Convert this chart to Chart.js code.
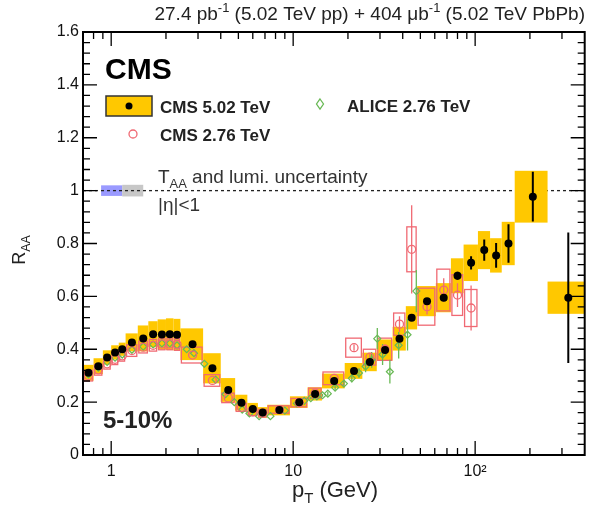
<!DOCTYPE html>
<html>
<head>
<meta charset="utf-8">
<script src="https://cdn.jsdelivr.net/npm/chart.js@4.4.1/dist/chart.umd.min.js"></script>
<style>
  html, body { margin: 0; padding: 0; background: #fff; }
  canvas { display: block; }
</style>
</head>
<body>
<canvas id="c" width="590" height="510"></canvas>
<script>
const FONT = '"Liberation Sans", Arial, Helvetica, sans-serif';

// ── CMS 5.02 TeV, 5-10% ──────────────────────────────────────────────────
const EDGES_502 = [0.7, 0.8, 0.9, 1.0, 1.1, 1.2, 1.4, 1.6, 1.8, 2.0, 2.2, 2.4, 3.2, 4.0, 4.8, 5.6, 6.4, 7.2,
  9.6, 12.0, 14.4, 19.2, 24.0, 28.8, 35.2, 41.6, 48.0, 60.8, 73.6, 86.4, 103.6, 120.8, 140.0, 165.0, 250.0, 400.0];
const PT_502 = [0.75, 0.85, 0.95, 1.05, 1.15, 1.3, 1.5, 1.7, 1.9, 2.1, 2.3, 2.8, 3.6, 4.4, 5.2, 6.0, 6.8, 8.4,
  10.8, 13.2, 16.8, 21.6, 26.4, 32, 38.4, 44.8, 54.4, 67.2, 80, 95, 112.2, 130.4, 152.5, 207.5, 325];
const RAA_502 = [0.311, 0.336, 0.369, 0.388, 0.400, 0.426, 0.441, 0.457, 0.456, 0.457, 0.455, 0.419, 0.328, 0.246,
  0.198, 0.174, 0.161, 0.170, 0.200, 0.231, 0.280, 0.318, 0.352, 0.397, 0.440, 0.519, 0.582, 0.595, 0.678, 0.727,
  0.775, 0.755, 0.800, 0.977, 0.595];
const STAT_502 = [0, 0, 0, 0, 0, 0, 0, 0, 0, 0, 0, 0, 0, 0, 0, 0, 0, 0, 0, 0, 0, 0, 0, 0, 0.004, 0.006, 0.008,
  0.01, 0.015, 0.025, 0.04, 0.047, 0.073, 0.094, 0.247];
const SYS_502 = [0.030, 0.030, 0.027, 0.027, 0.025, 0.034, 0.049, 0.049, 0.057, 0.060, 0.060, 0.060, 0.057, 0.045,
  0.030, 0.023, 0.020, 0.020, 0.022, 0.025, 0.028, 0.030, 0.035, 0.040, 0.045, 0.044, 0.057, 0.055, 0.066, 0.069,
  0.072, 0.065, 0.082, 0.098, 0.061];

// ── CMS 2.76 TeV ─────────────────────────────────────────────────────────
const EDGES_276 = [0.7, 0.8, 0.9, 1.0, 1.1, 1.2, 1.4, 1.6, 1.8, 2.0, 2.2, 2.4, 3.2, 4.0, 4.8, 5.6, 6.4, 7.2,
  9.6, 12.0, 14.4, 19.2, 24.0, 28.8, 35.2, 41.6, 48.0, 60.8, 73.6, 86.4, 103.6];
const PT_276 = [0.75, 0.85, 0.95, 1.05, 1.15, 1.3, 1.5, 1.7, 1.9, 2.1, 2.3, 2.8, 3.6, 4.4, 5.2, 6.0, 6.8, 8.4,
  10.8, 13.2, 16.8, 21.6, 26.4, 32, 38.4, 44.8, 54.4, 67.2, 80, 95];
const RAA_276 = [0.300, 0.322, 0.345, 0.362, 0.375, 0.395, 0.408, 0.415, 0.420, 0.420, 0.418, 0.378, 0.282, 0.216,
  0.180, 0.163, 0.158, 0.172, 0.198, 0.234, 0.290, 0.406, 0.370, 0.400, 0.495, 0.778, 0.561, 0.624, 0.605, 0.556];
const STAT_276 = [0, 0, 0, 0, 0, 0, 0, 0, 0, 0, 0, 0, 0, 0, 0, 0, 0, 0, 0, 0, 0.006, 0.012, 0.012, 0.018, 0.03,
  0.167, 0.03, 0.045, 0.045, 0.085];
const SYS_276 = [0.02, 0.02, 0.02, 0.02, 0.02, 0.022, 0.022, 0.022, 0.022, 0.022, 0.022, 0.03, 0.022, 0.018, 0.015,
  0.014, 0.014, 0.014, 0.016, 0.019, 0.024, 0.036, 0.03, 0.042, 0.042, 0.085, 0.07, 0.079, 0.077, 0.07];

// ── ALICE 2.76 TeV ───────────────────────────────────────────────────────
const PT_ALICE = [0.75, 0.85, 0.95, 1.05, 1.15, 1.3, 1.5, 1.7, 1.9, 2.1, 2.3, 2.6, 2.85, 3.25, 3.75, 4.25, 4.75,
  5.25, 5.75, 6.5, 7.5, 9, 10.5, 11.5, 12.5, 13.5, 14.5, 15.5, 17, 19, 21, 23, 25, 27, 29, 31, 34, 38, 42.5, 47.5];
const RAA_ALICE = [0.305, 0.33, 0.352, 0.368, 0.38, 0.398, 0.41, 0.418, 0.422, 0.422, 0.415, 0.40, 0.385, 0.345,
  0.285, 0.23, 0.2, 0.172, 0.157, 0.147, 0.147, 0.168, 0.195, 0.205, 0.215, 0.222, 0.226, 0.232, 0.255, 0.27, 0.29,
  0.31, 0.335, 0.36, 0.44, 0.38, 0.315, 0.415, 0.455, 0.62];
const STAT_ALICE = [0, 0, 0, 0, 0, 0, 0, 0, 0, 0, 0, 0, 0, 0, 0, 0, 0, 0, 0, 0, 0, 0, 0, 0, 0.004, 0.005, 0.006,
  0.008, 0.01, 0.012, 0.015, 0.018, 0.022, 0.03, 0.04, 0.04, 0.045, 0.05, 0.06, 0.08];

// ── normalisation boxes at R_AA = 1 (T_AA, lumi) ─────────────────────────
const UNC_LO = [0.88, 1.15];
const UNC_HI = [1.15, 1.5];
const UNC_HALF = [0.02, 0.022];
const UNC_COLORS = ['rgba(120,120,255,0.75)', 'rgba(185,185,185,0.8)'];

// ── axes ─────────────────────────────────────────────────────────────────
const X_TICKS = [1, 10, 100];
const X_TICK_LABELS = ['1', '10', '10²'];
const X_MINOR = [0.8, 0.9, 2, 3, 4, 5, 6, 7, 8, 9, 20, 30, 40, 50, 60, 70, 80, 90, 200, 300];
const Y_TICKS = [0, 0.2, 0.4, 0.6, 0.8, 1.0, 1.2, 1.4, 1.6];
const Y_TICK_LABELS = ['0', '0.2', '0.4', '0.6', '0.8', '1', '1.2', '1.4', '1.6'];

const YELLOW = '#ffc800';
const RED = 'rgb(240,105,115)';
const GREEN = 'rgb(105,185,85)';

function pts(xs, ys) { return xs.map((v, i) => ({ x: v, y: ys[i] })); }

// rich text: segments [{t, sub, sup}]
function richWidth(ctx, segs, size, weight) {
  let w = 0;
  for (const s of segs) {
    const fs = (s.sub || s.sup) ? size * 0.68 : size;
    ctx.font = `${weight || ''} ${fs}px ${FONT}`;
    w += ctx.measureText(s.t).width;
  }
  return w;
}
function drawRich(ctx, x, y, segs, size, opts = {}) {
  const weight = opts.weight || '';
  const w = richWidth(ctx, segs, size, weight);
  let cx = opts.align === 'right' ? x - w : opts.align === 'center' ? x - w / 2 : x;
  ctx.textBaseline = 'alphabetic';
  ctx.textAlign = 'left';
  ctx.fillStyle = opts.color || '#111';
  for (const s of segs) {
    const fs = (s.sub || s.sup) ? size * 0.68 : size;
    ctx.font = `${weight} ${fs}px ${FONT}`;
    const dy = s.sub ? size * 0.28 : s.sup ? -size * 0.42 : 0;
    ctx.fillText(s.t, cx, y + dy);
    cx += ctx.measureText(s.t).width;
  }
}

const rootStyle = {
  id: 'rootStyle',
  beforeDatasetsDraw(chart) {
    const { ctx, chartArea: a, scales: { x, y } } = chart;
    ctx.save();
    ctx.beginPath();
    ctx.rect(a.left, a.top, a.right - a.left, a.bottom - a.top);
    ctx.clip();

    // normalisation boxes
    UNC_LO.forEach((lo, i) => {
      const x0 = x.getPixelForValue(lo), x1 = x.getPixelForValue(UNC_HI[i]);
      const y0 = y.getPixelForValue(1 + UNC_HALF[i]), y1 = y.getPixelForValue(1 - UNC_HALF[i]);
      ctx.fillStyle = UNC_COLORS[i];
      ctx.fillRect(x0, y0, x1 - x0, y1 - y0);
    });

    // dotted line at 1
    ctx.strokeStyle = '#222';
    ctx.lineWidth = 1.3;
    ctx.setLineDash([3, 3]);
    ctx.beginPath();
    ctx.moveTo(a.left, y.getPixelForValue(1));
    ctx.lineTo(a.right, y.getPixelForValue(1));
    ctx.stroke();
    ctx.setLineDash([]);

    // CMS 5.02 systematic boxes
    ctx.fillStyle = YELLOW;
    PT_502.forEach((p, i) => {
      const x0 = x.getPixelForValue(EDGES_502[i]), x1 = x.getPixelForValue(EDGES_502[i + 1]);
      const y0 = y.getPixelForValue(RAA_502[i] + SYS_502[i]), y1 = y.getPixelForValue(RAA_502[i] - SYS_502[i]);
      ctx.fillRect(x0, y0, x1 - x0, y1 - y0);
    });

    // CMS 2.76 systematic boxes (open)
    ctx.strokeStyle = RED;
    ctx.lineWidth = 1.3;
    PT_276.forEach((p, i) => {
      const x0 = x.getPixelForValue(EDGES_276[i]), x1 = x.getPixelForValue(EDGES_276[i + 1]);
      const y0 = y.getPixelForValue(RAA_276[i] + SYS_276[i]), y1 = y.getPixelForValue(RAA_276[i] - SYS_276[i]);
      ctx.strokeRect(x0 + 1, y0, x1 - x0 - 2, y1 - y0);
    });

    function bars(xs, ys, es, color, lw) {
      ctx.strokeStyle = color;
      ctx.lineWidth = lw;
      xs.forEach((p, i) => {
        if (!es[i]) return;
        const px = x.getPixelForValue(p);
        ctx.beginPath();
        ctx.moveTo(px, y.getPixelForValue(ys[i] + es[i]));
        ctx.lineTo(px, y.getPixelForValue(ys[i] - es[i]));
        ctx.stroke();
      });
    }
    bars(PT_ALICE, RAA_ALICE, STAT_ALICE, GREEN, 1.3);
    bars(PT_276, RAA_276, STAT_276, RED, 1.3);
    bars(PT_502, RAA_502, STAT_502, '#000', 2);
    ctx.restore();
  },
  afterDraw(chart) {
    const { ctx, chartArea: a, scales: { x, y } } = chart;
    ctx.save();
    // frame
    ctx.strokeStyle = '#000';
    ctx.lineWidth = 2;
    ctx.strokeRect(a.left, a.top, a.right - a.left, a.bottom - a.top);

    // inward ticks
    ctx.lineWidth = 1.3;
    ctx.beginPath();
    const yTick = (v, len) => {
      const py = y.getPixelForValue(v);
      ctx.moveTo(a.left, py); ctx.lineTo(a.left + len, py);
      ctx.moveTo(a.right, py); ctx.lineTo(a.right - len, py);
    };
    Y_TICKS.forEach(v => yTick(v, 14));
    for (let k = 0; k < 40; k++) if (k % 5) yTick(k * 0.04, 7);
    const xTick = (v, len) => {
      const px = x.getPixelForValue(v);
      ctx.moveTo(px, a.bottom); ctx.lineTo(px, a.bottom - len);
      ctx.moveTo(px, a.top); ctx.lineTo(px, a.top + len);
    };
    X_TICKS.forEach(v => xTick(v, 14));
    X_MINOR.forEach(v => xTick(v, 7));
    ctx.stroke();

    // titles
    drawRich(ctx, 585, 20, [{ t: '27.4 pb' }, { t: '-1', sup: true }, { t: ' (5.02 TeV pp) + 404 μb' }, { t: '-1', sup: true },
      { t: ' (5.02 TeV PbPb)' }], 19, { align: 'right', color: '#222' });
    drawRich(ctx, 335, 497, [{ t: 'p' }, { t: 'T', sub: true }, { t: ' (GeV)' }], 22, { align: 'center', color: '#222' });
    ctx.save();
    ctx.translate(25, 250);
    ctx.rotate(-Math.PI / 2);
    drawRich(ctx, 0, 0, [{ t: 'R' }, { t: 'AA', sub: true }], 18, { align: 'center', color: '#222' });
    ctx.restore();

    drawRich(ctx, 105, 79, [{ t: 'CMS' }], 30, { weight: 'bold', color: '#000' });
    drawRich(ctx, 103, 428, [{ t: '5-10%' }], 24, { weight: 'bold', color: '#222' });

    // legend
    ctx.fillStyle = YELLOW;
    ctx.fillRect(106, 96, 46, 20);
    ctx.strokeStyle = '#333';
    ctx.lineWidth = 1.5;
    ctx.strokeRect(106, 96, 46, 20);
    ctx.fillStyle = '#000';
    ctx.beginPath(); ctx.arc(129, 106, 3.5, 0, Math.PI * 2); ctx.fill();
    drawRich(ctx, 160, 113, [{ t: 'CMS 5.02 TeV' }], 17, { weight: 'bold', color: '#222' });

    ctx.strokeStyle = RED;
    ctx.lineWidth = 1.3;
    ctx.beginPath(); ctx.arc(133, 134, 4, 0, Math.PI * 2); ctx.stroke();
    drawRich(ctx, 160, 141, [{ t: 'CMS 2.76 TeV' }], 17, { weight: 'bold', color: '#222' });

    ctx.strokeStyle = GREEN;
    ctx.beginPath();
    ctx.moveTo(320, 99); ctx.lineTo(323.5, 104); ctx.lineTo(320, 109); ctx.lineTo(316.5, 104); ctx.closePath();
    ctx.stroke();
    drawRich(ctx, 347, 112, [{ t: 'ALICE 2.76 TeV' }], 17, { weight: 'bold', color: '#222' });

    drawRich(ctx, 158, 183, [{ t: 'T' }, { t: 'AA', sub: true }, { t: ' and lumi. uncertainty' }], 19, { color: '#333' });
    drawRich(ctx, 158, 211, [{ t: '|η|<1' }], 19, { color: '#333' });
    ctx.restore();
  }
};

new Chart(document.getElementById('c'), {
  type: 'scatter',
  data: {
    datasets: [
      {
        label: 'CMS 5.02 TeV',
        data: pts(PT_502, RAA_502),
        pointStyle: 'circle', pointRadius: 4, borderWidth: 0,
        backgroundColor: '#000', borderColor: '#000'
      },
      {
        label: 'CMS 2.76 TeV',
        data: pts(PT_276, RAA_276),
        pointStyle: 'circle', pointRadius: 4, borderWidth: 1.3,
        backgroundColor: 'rgba(0,0,0,0)', borderColor: RED
      },
      {
        label: 'ALICE 2.76 TeV',
        data: pts(PT_ALICE, RAA_ALICE),
        pointStyle: 'rectRot', pointRadius: 3.5, borderWidth: 1.2,
        backgroundColor: 'rgba(0,0,0,0)', borderColor: GREEN
      }
    ]
  },
  options: {
    responsive: false,
    animation: false,
    layout: { padding: { top: 32, right: 4, left: 0, bottom: 0 } },
    plugins: { legend: { display: false }, tooltip: { enabled: false } },
    scales: {
      x: {
        type: 'logarithmic', min: 0.7, max: 400,
        grid: { display: false, drawTicks: false }, border: { display: false },
        afterBuildTicks: s => { s.ticks = X_TICKS.map(v => ({ value: v })); },
        afterFit: s => { s.height = 55; },
        ticks: {
          autoSkip: false, maxRotation: 0, padding: 7, color: '#111',
          font: { family: FONT, size: 16 },
          callback: (v, i) => X_TICK_LABELS[i]
        }
      },
      y: {
        type: 'linear', min: 0, max: 1.6,
        grid: { display: false, drawTicks: false }, border: { display: false },
        afterBuildTicks: s => { s.ticks = Y_TICKS.map(v => ({ value: v })); },
        afterFit: s => { s.width = 83; },
        ticks: {
          autoSkip: false, padding: 4, color: '#111',
          font: { family: FONT, size: 16 },
          callback: (v, i) => Y_TICK_LABELS[i]
        }
      }
    }
  },
  plugins: [rootStyle]
});
</script>
</body>
</html>
